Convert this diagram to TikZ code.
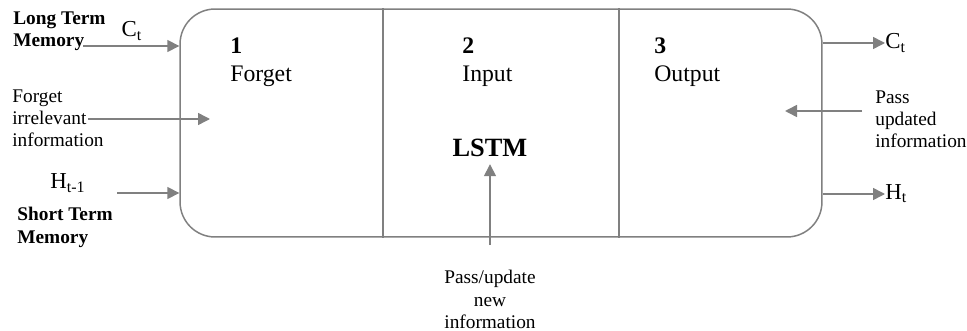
\documentclass[tikz,border=0pt]{standalone}
\usepackage{fontspec}
\setmainfont{Liberation Serif}
\usetikzlibrary{arrows.meta,positioning,calc}
\begin{document}
\begin{tikzpicture}[x=0.02cm,y=-0.02cm,>={Triangle[length=2.4mm,width=2.4mm]},
 lbl/.style={inner sep=0pt,align=left,font=\fontsize{11}{12.7}\selectfont},
 head/.style={inner sep=0pt,align=left,font=\fontsize{11}{13}\selectfont\bfseries},
 sym/.style={inner sep=0pt,font=\fontsize{13}{15}\selectfont},
 gate/.style={inner sep=0pt,align=left,anchor=north west,font=\fontsize{13.5}{16}\selectfont},
 line/.style={->,draw=gray,line width=0.85pt}]
\useasboundingbox (0,0) rectangle (967,331);
\node[draw=gray,line width=0.85pt,rounded corners=0.7cm,minimum width=12.84cm,minimum height=4.56cm] (box) at (501,123) {};
\coordinate (d1) at (383,0);
\coordinate (d2) at (619,0);
\draw[gray,line width=0.85pt] (d1 |- box.north) -- (d1 |- box.south);
\draw[gray,line width=0.85pt] (d2 |- box.north) -- (d2 |- box.south);
\node[gate] (forget) at (230,37) {\textbf{1}\\Forget};
\node[gate] (input) at (462,37) {\textbf{2}\\Input};
\node[gate] (output) at (654,37) {\textbf{3}\\Output};
\node[inner sep=0pt,font=\fontsize{15}{17}\selectfont\bfseries] (lstm) at (490,148) {LSTM};
\node[head,anchor=north west] (ltm) at (13,11) {Long Term\\Memory};
\node[sym] (ctin) at (132,31) {C\textsubscript{t}};
\node[lbl,anchor=north west] (irr) at (12,89) {Forget\\irrelevant\\information};
\node[sym] (hprev) at (68,183) {H\textsubscript{t-1}};
\node[head,anchor=north west] (stm) at (17,207) {Short Term\\Memory};
\node[sym,anchor=west] (ctout) at (885,43) {C\textsubscript{t}};
\node[sym,anchor=west] (htout) at (885,194) {H\textsubscript{t}};
\node[lbl,anchor=north west] (upd) at (875,90) {Pass\\updated\\information};
\node[lbl,align=center,anchor=north] (new) at (490,270) {Pass/update\\new\\information};
\coordinate (ltmin) at (83,46);
\coordinate (irrin) at (88,119);
\coordinate (irrend) at (210,119);
\coordinate (hin) at (117,193);
\coordinate (updin) at (862,111);
\coordinate (updend) at (785,111);
\coordinate (newin) at (490,245);
\draw[line] (ltmin) -- (ltmin -| box.west);
\draw[line] (irrin) -- (irrend);
\draw[line] (hin) -- (hin -| box.west);
\draw[line] (box.east |- ctout) -- (ctout.west);
\draw[line] (box.east |- htout) -- (htout.west);
\draw[line] (updin) -- (updend);
\draw[line,shorten >=1.4mm] (newin) -- (lstm.south);
\end{tikzpicture}
\end{document}
